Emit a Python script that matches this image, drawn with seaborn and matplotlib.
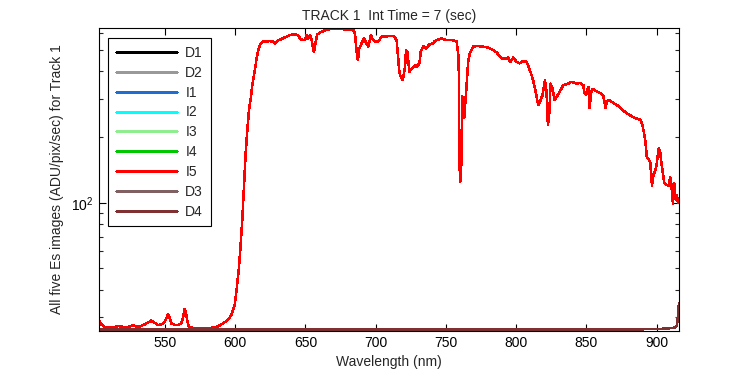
import numpy as np
import pandas as pd
import matplotlib
matplotlib.use("Agg")
import matplotlib.pyplot as plt
import seaborn as sns
from matplotlib.ticker import FixedLocator, NullFormatter

# Es spectrum (all five images nearly identical)
wavelength = [
    503.0, 504.7, 507.0, 514.2, 516.5, 520.0, 523.7, 527.2, 530.8, 535.5,
    538.0, 540.2, 542.5, 545.0, 548.6, 550.5, 552.1, 553.5, 554.5, 557.0,
    559.3, 561.6, 563.0, 564.0, 565.2, 566.0, 566.9, 570.0, 575.0, 578.2,
    582.0, 584.2, 587.7, 591.3, 594.8, 597.2, 598.6, 599.6, 601.0, 602.7,
    603.9, 605.0, 606.2, 607.4, 608.6, 609.8, 611.0, 612.1, 613.0, 614.1,
    615.2, 616.4, 617.6, 619.0, 620.0, 622.0, 624.7, 627.1, 628.3, 630.6,
    633.0, 634.2, 636.5, 638.9, 641.3, 643.0, 644.9, 646.0, 647.2, 649.6,
    650.8, 652.0, 653.2, 654.4, 656.0, 656.8, 658.4, 660.3, 662.7, 665.1,
    669.8, 674.6, 679.3, 684.0, 685.2, 686.4, 687.3, 688.3, 690.0, 691.6,
    693.0, 694.7, 696.6, 697.5, 699.4, 701.8, 704.2, 708.9, 713.0, 714.9,
    716.0, 716.8, 717.3, 719.2, 720.9, 721.6, 722.5, 724.0, 725.6, 728.0,
    729.2, 731.1, 732.1, 733.9, 735.8, 738.2, 740.6, 742.2, 744.6, 747.0,
    750.5, 754.1, 757.6, 758.8, 759.3, 759.5, 760.2, 760.9, 761.6, 762.3,
    763.0, 763.7, 764.7, 765.8, 767.0, 769.4, 771.7, 776.5, 780.0, 783.6,
    786.0, 788.4, 790.7, 794.3, 795.2, 796.0, 797.9, 800.2, 802.6, 805.0,
    807.4, 809.8, 812.1, 813.8, 815.7, 816.9, 818.8, 820.5, 821.6, 822.6,
    823.5, 824.5, 825.9, 827.4, 828.8, 831.1, 833.5, 837.1, 839.5, 843.1,
    845.5, 847.8, 848.6, 849.8, 851.4, 852.3, 853.3, 854.5, 857.0, 860.0,
    862.0, 863.7, 864.5, 866.0, 870.0, 874.0, 876.0, 879.0, 882.0, 885.0,
    888.5, 890.0, 891.0, 892.0, 893.0, 894.5, 895.5, 896.7, 897.3, 898.0,
    899.0, 900.0, 900.8, 901.5, 902.6, 903.5, 904.5, 905.5, 907.0, 908.6,
    909.7, 910.3, 911.0, 911.6, 912.5, 913.0, 913.7, 914.5, 915.2,
]
es_signal = [
    29.0, 27.7, 26.9, 26.9, 27.2, 27.0, 26.9, 27.5, 26.9, 27.7,
    28.3, 28.8, 28.2, 27.5, 27.8, 29.0, 30.7, 29.5, 28.0, 27.5,
    27.5, 28.0, 30.0, 32.6, 30.5, 28.5, 27.1, 26.6, 26.5, 26.6,
    26.6, 26.8, 27.1, 28.0, 29.0, 30.5, 32.5, 34.0, 40.0, 50.9,
    65.0, 83.0, 118.0, 168.0, 215.0, 266.0, 300.0, 345.0, 375.0, 410.0,
    459.0, 500.0, 532.0, 545.0, 550.0, 548.0, 552.0, 547.0, 536.0, 557.0,
    563.0, 570.0, 577.0, 587.0, 591.0, 590.0, 585.0, 570.0, 560.0, 557.0,
    587.0, 567.0, 587.0, 557.0, 490.0, 528.0, 591.0, 603.0, 612.0, 624.0,
    626.0, 626.0, 624.0, 620.0, 598.0, 493.0, 451.0, 510.0, 538.0, 567.0,
    544.0, 520.0, 587.0, 567.0, 547.0, 550.0, 577.0, 581.0, 581.0, 557.0,
    459.0, 400.0, 385.0, 365.0, 420.0, 501.0, 493.0, 398.0, 413.0, 428.0,
    420.0, 436.0, 493.0, 524.0, 510.0, 532.0, 538.0, 552.0, 560.0, 567.0,
    557.0, 557.0, 550.0, 476.0, 372.0, 157.0, 125.0, 149.0, 307.0, 262.0,
    244.0, 280.0, 346.0, 443.0, 484.0, 520.0, 524.0, 520.0, 515.0, 501.0,
    490.0, 469.0, 456.0, 463.0, 450.0, 443.0, 463.0, 443.0, 436.0, 447.0,
    443.0, 405.0, 365.0, 324.0, 280.0, 290.0, 312.0, 365.0, 324.0, 227.0,
    252.0, 352.0, 334.0, 296.0, 306.0, 324.0, 346.0, 352.0, 359.0, 352.0,
    355.0, 346.0, 320.0, 312.0, 340.0, 272.0, 320.0, 332.0, 325.0, 318.0,
    310.0, 272.0, 290.0, 296.0, 285.0, 274.0, 265.0, 257.0, 250.0, 244.0,
    240.0, 225.0, 209.0, 190.0, 162.0, 158.0, 152.0, 120.0, 130.0, 136.0,
    140.0, 149.0, 165.0, 178.0, 169.0, 150.0, 136.0, 123.0, 121.0, 120.0,
    131.0, 125.0, 110.0, 99.0, 123.0, 110.0, 103.0, 108.0, 100.0,
]

# dark images
wavelength_dark = [502.8, 550.0, 600.0, 650.0, 700.0, 750.0, 800.0, 850.0,
                   890.0, 902.6, 907.4, 913.3, 914.5, 915.2, 915.9]
dark_signal = [26.2, 26.2, 26.2, 26.2, 26.2, 26.2, 26.2, 26.2,
               26.3, 26.4, 26.5, 26.8, 27.5, 30.6, 34.7]

image_names = ["D1", "D2", "I1", "I2", "I3", "I4", "I5", "D3", "D4"]
image_colors = ["#000000", "#999999", "#1e6ed2", "#00ffff", "#90ee90",
                "#00c800", "#ff0000", "#806060", "#803030"]

sns.set_style("ticks")
plt.rcParams["font.family"] = ["Liberation Sans", "DejaVu Sans"]
plt.rcParams["mathtext.fontset"] = "custom"
plt.rcParams["mathtext.rm"] = "Liberation Sans"
plt.rcParams["xtick.direction"] = "in"
plt.rcParams["ytick.direction"] = "in"
plt.rcParams["xtick.top"] = True
plt.rcParams["ytick.right"] = True
plt.rcParams["lines.antialiased"] = False

# long-form table
frames = []
for name in image_names:
    if name.startswith("D"):
        frames.append(pd.DataFrame({"wl": wavelength_dark, "val": dark_signal, "image": name}))
    else:
        frames.append(pd.DataFrame({"wl": wavelength, "val": es_signal, "image": name}))
df = pd.concat(frames, ignore_index=True)

fig = plt.figure(figsize=(7.5, 3.75), dpi=100)
ax = fig.add_axes([0.1316, 0.1181, 0.7737, 0.8064])

sns.lineplot(data=df, x="wl", y="val", hue="image", hue_order=image_names,
             palette=image_colors, estimator=None, sort=False, linewidth=1.1,
             ax=ax, legend=True)
for line in ax.get_lines():
    line.set_antialiased(False)

ax.set_yscale("log")
ax.set_xlim(502.8, 915.9)
ax.set_ylim(25.9, 631)

ax.set_xticks([550, 600, 650, 700, 750, 800, 850, 900])
ax.yaxis.set_major_locator(FixedLocator([100]))
ax.set_yticklabels([r"$\mathregular{10^{2}}$"])
ax.yaxis.set_minor_locator(FixedLocator([30, 40, 50, 60, 70, 80, 90, 200, 300, 400, 500, 600]))
ax.yaxis.set_minor_formatter(NullFormatter())
ax.tick_params(which="major", length=5, width=0.8, labelsize=10, colors="black")
ax.tick_params(which="minor", length=3, width=0.8)
for s in ax.spines.values():
    s.set_linewidth(0.8)
    s.set_color("black")

ax.set_title("TRACK 1  Int Time = 7 (sec)", fontsize=10, pad=6)
ax.set_xlabel("Wavelength (nm)", fontsize=10, labelpad=4)
ax.set_ylabel("All five Es images (ADU/pix/sec) for Track 1", fontsize=10, labelpad=5)

handles, labels = ax.get_legend_handles_labels()
leg = ax.legend(handles, labels, loc="upper left", bbox_to_anchor=(0.0165, 0.967),
                fontsize=10, frameon=True, fancybox=False, edgecolor="black",
                framealpha=1, handlelength=4.4, handletextpad=0.6,
                labelspacing=0.42, borderpad=0.55, borderaxespad=0)
leg.get_frame().set_linewidth(0.8)
for line in leg.get_lines():
    line.set_linewidth(1.0)
    line.set_antialiased(False)

fig.savefig("out.png", dpi=100)
